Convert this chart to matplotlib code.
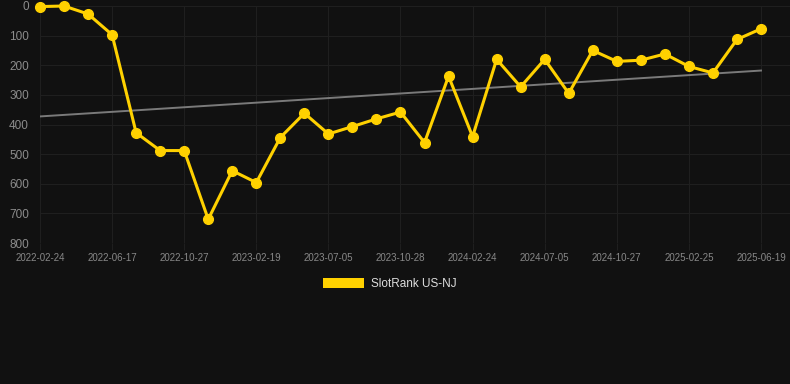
import matplotlib
matplotlib.use("Agg")
import matplotlib.pyplot as plt
from matplotlib.patches import Patch
import numpy as np

# Daten
dates = ["2022-02-24", "2022-06-17", "2022-10-27", "2023-02-19", "2023-07-05", "2023-10-28",
         "2024-02-24", "2024-07-05", "2024-10-27", "2025-02-25", "2025-06-19"]
rank = [2, 0, 27, 97, 428, 488, 488, 720, 556, 596, 444,
        362, 432, 407, 381, 358, 461, 237, 441, 180, 273,
        180, 295, 150, 187, 183, 162, 204, 226, 113, 77]
series_label = "SlotRank US-NJ"

bg = "#111111"
yellow = "#FFD100"
plt.rcParams["font.family"] = ["Liberation Sans", "DejaVu Sans"]

x = np.arange(len(rank))
fig = plt.figure(figsize=(7.9, 3.84), dpi=100, facecolor=bg)
ax = fig.add_axes([40 / 790, 1 - 243 / 384, 1 - 40 / 790, 237 / 384])
ax.set_facecolor(bg)

# Trendlinie (lineare Regression)
k, d = np.polyfit(x, rank, 1)
ax.plot(x, k * x + d, color="#7a7a7a", linewidth=1.4, zorder=2)

ax.plot(x, rank, color=yellow, linewidth=2.2, marker="o", markersize=7,
        clip_on=False, zorder=3)

ax.set_ylim(800, 0)
ax.set_xlim(0, 30 + 29 / 24.03)
ax.set_yticks(range(0, 801, 100))
ax.set_xticks(x[::3])
ax.set_xticklabels(dates)
ax.grid(True, color="#1f1f1f", linewidth=0.8)
ax.set_axisbelow(True)
for s in ax.spines.values():
    s.set_visible(False)
ax.tick_params(axis="y", colors="#8c8c8c", labelsize=8.5, length=0, pad=8)
ax.tick_params(axis="x", colors="#1f1f1f", labelcolor="#888888", labelsize=7, length=5, pad=2.5)

fig.legend(handles=[Patch(facecolor=yellow, label=series_label)],
           loc="center", bbox_to_anchor=(390 / 790, 1 - 284 / 384), frameon=False,
           labelcolor="#dddddd", fontsize=8.5, handlelength=3.5, handleheight=1.0,
           handletextpad=0.6)

fig.savefig("out.png", dpi=100, facecolor=bg)
